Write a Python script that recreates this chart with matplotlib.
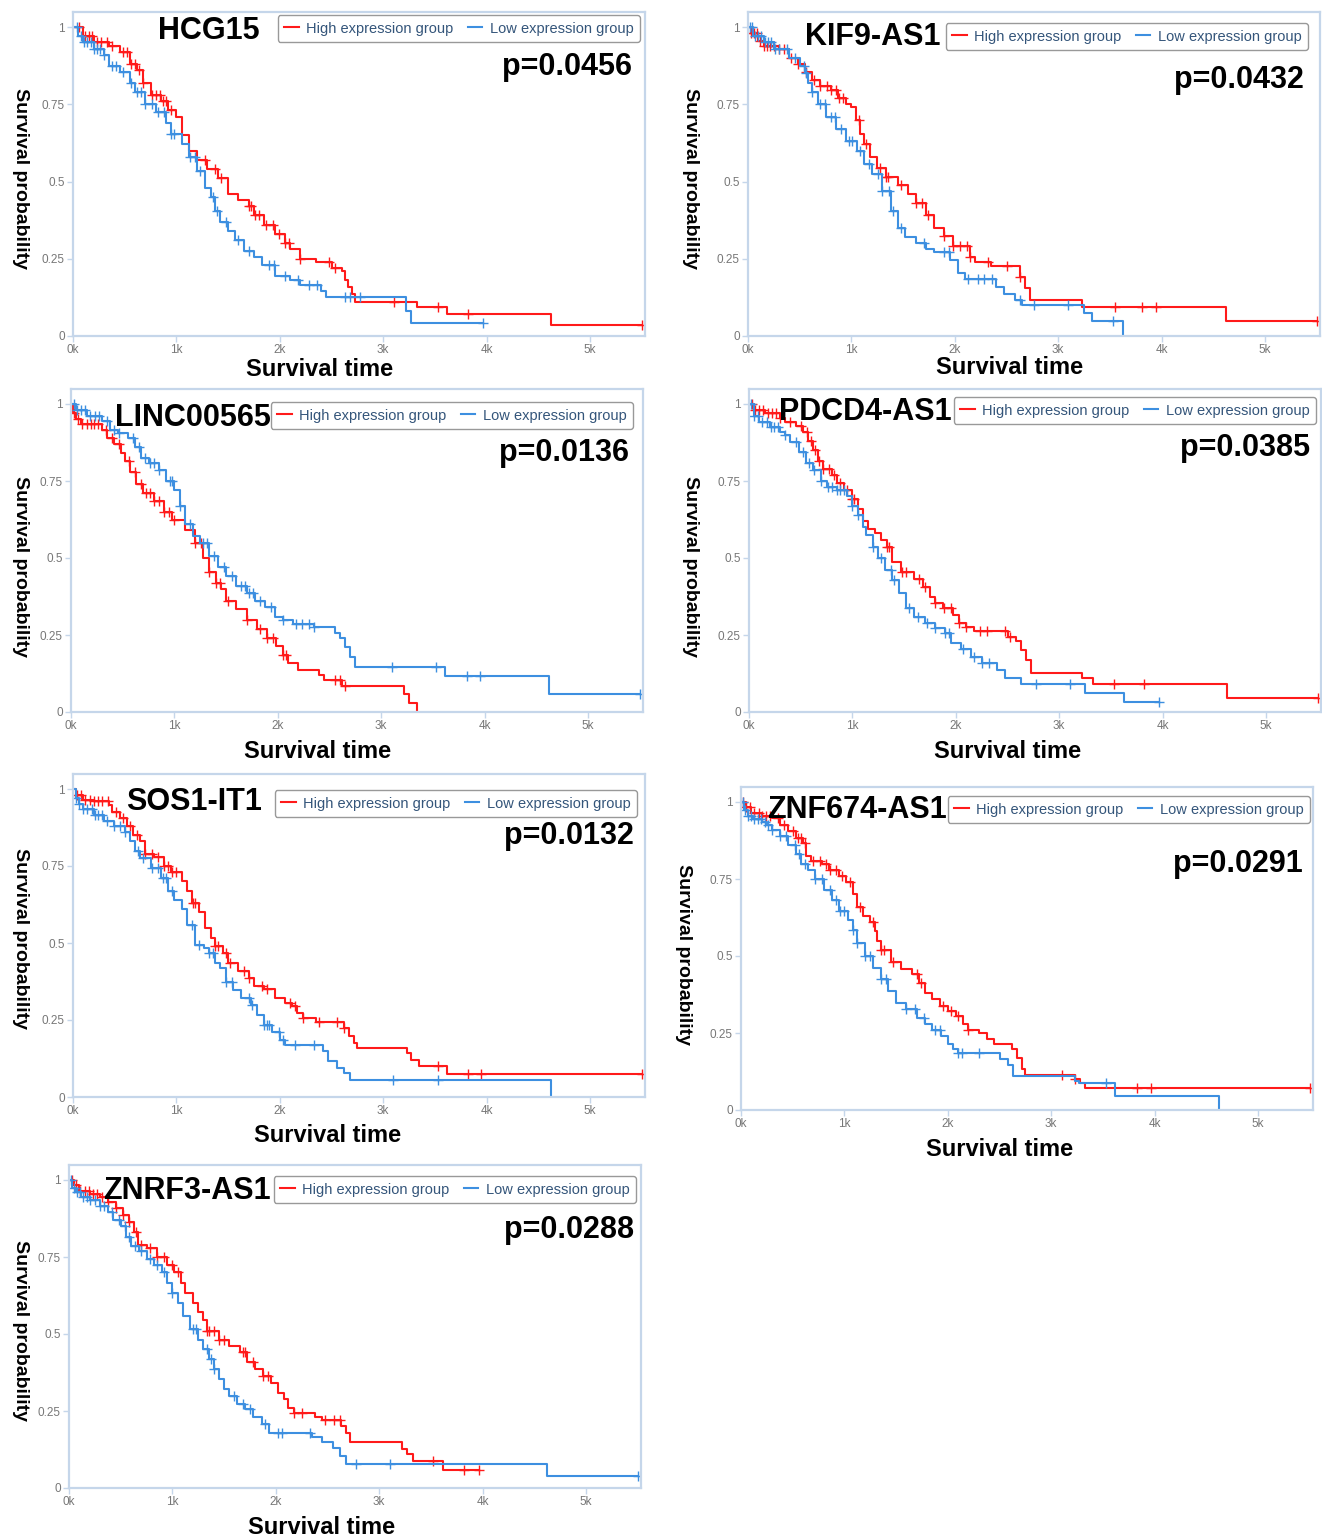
import matplotlib
matplotlib.use("Agg")
import matplotlib.pyplot as plt
import numpy as np

plt.rcParams["font.family"] = ["Liberation Sans", "DejaVu Sans"]

W, H = 1322, 1539
RED = "#ff1a1a"
BLUE = "#3d8fe0"
FRAME = "#c5d6ea"

genes = ["HCG15", "KIF9-AS1", "LINC00565", "PDCD4-AS1", "SOS1-IT1", "ZNF674-AS1", "ZNRF3-AS1"]
pvalues = ["p=0.0456", "p=0.0432", "p=0.0136", "p=0.0385", "p=0.0132", "p=0.0291", "p=0.0288"]

# ---- KM curves: step times (days), survival after each step, censor times ----
hcg15_high_t = [0, 100, 200, 350, 450, 550, 620, 680, 750, 850, 920, 1000, 1050, 1120, 1200, 1300, 1400, 1500, 1600, 1700, 1750, 1850, 1950, 2050, 2100, 2200, 2350, 2500, 2600, 2630, 2660, 2700, 2730, 3330, 3620, 4620]
hcg15_high_s = [1, .97, .95, .94, .92, .88, .86, .82, .78, .76, .73, .71, .65, .60, .57, .54, .51, .46, .44, .42, .39, .36, .33, .30, .28, .25, .24, .22, .21, .18, .16, .135, .11, .095, .07, .036]
hcg15_high_c = [60, 120, 150, 180, 230, 270, 330, 380, 480, 520, 560, 600, 640, 680, 760, 800, 840, 870, 900, 950, 1280, 1370, 1430, 1700, 1720, 1760, 1800, 1870, 1930, 1990, 2050, 2090, 2200, 2480, 2530, 3100, 3530, 3820, 5500]
hcg15_low_t = [0, 50, 100, 200, 300, 350, 450, 550, 600, 700, 800, 900, 950, 1050, 1120, 1200, 1280, 1330, 1370, 1420, 1500, 1570, 1650, 1750, 1830, 1950, 2100, 2200, 2400, 2450, 3220, 3270]
hcg15_low_s = [1, .97, .95, .93, .91, .875, .855, .82, .79, .75, .725, .69, .655, .62, .58, .535, .48, .45, .405, .37, .34, .31, .275, .255, .23, .195, .18, .165, .145, .125, .08, .043]
hcg15_low_c = [40, 80, 110, 140, 170, 200, 230, 260, 300, 380, 420, 480, 560, 620, 660, 700, 760, 820, 880, 950, 980, 1130, 1180, 1230, 1350, 1390, 1480, 1600, 1700, 1900, 1940, 2050, 2180, 2280, 2360, 2630, 2680, 2780, 3970]

kif9_high_t = [0, 30, 100, 150, 300, 400, 480, 550, 620, 700, 800, 870, 950, 1000, 1040, 1080, 1120, 1180, 1250, 1330, 1450, 1550, 1620, 1720, 1800, 1900, 1980, 2150, 2200, 2350, 2630, 2680, 2730, 3230, 4620]
kif9_high_s = [1, .98, .955, .94, .93, .90, .88, .855, .83, .81, .795, .77, .75, .74, .70, .655, .62, .58, .545, .515, .49, .46, .43, .39, .35, .325, .29, .255, .24, .225, .19, .155, .115, .095, .047]
kif9_high_c = [30, 60, 90, 120, 150, 180, 210, 250, 300, 350, 420, 480, 560, 640, 700, 760, 800, 850, 880, 920, 1070, 1140, 1280, 1330, 1350, 1480, 1620, 1680, 1740, 1900, 1980, 2050, 2120, 2150, 2320, 2500, 2630, 3550, 3810, 3950, 5500]
kif9_low_t = [0, 50, 150, 250, 400, 500, 550, 580, 620, 680, 750, 850, 950, 1050, 1120, 1200, 1300, 1380, 1450, 1520, 1620, 1720, 1800, 1950, 2030, 2100, 2400, 2480, 2580, 2650, 3250, 3330, 3630]
kif9_low_s = [1, .97, .95, .93, .90, .875, .85, .82, .79, .75, .71, .67, .63, .60, .557, .525, .47, .405, .35, .32, .30, .28, .273, .245, .205, .185, .16, .135, .115, .10, .075, .05, 0]
kif9_low_c = [20, 40, 70, 100, 130, 160, 190, 220, 260, 300, 380, 450, 540, 560, 620, 700, 740, 800, 840, 900, 980, 1010, 1080, 1170, 1260, 1300, 1360, 1400, 1480, 1700, 1900, 1940, 2130, 2220, 2280, 2360, 2630, 2770, 3090, 3530]

linc_high_t = [0, 20, 50, 100, 300, 350, 420, 480, 520, 570, 630, 700, 800, 900, 980, 1100, 1200, 1280, 1330, 1400, 1450, 1500, 1600, 1700, 1800, 1900, 1980, 2050, 2100, 2200, 2400, 2450, 2620, 3220, 3270, 3350]
linc_high_s = [1, .97, .95, .935, .915, .89, .87, .84, .815, .78, .74, .71, .685, .65, .625, .59, .55, .50, .455, .42, .40, .36, .335, .30, .27, .24, .215, .185, .16, .135, .12, .105, .085, .057, .03, 0]
linc_high_c = [30, 70, 110, 150, 190, 220, 260, 340, 400, 460, 560, 620, 680, 730, 760, 800, 850, 900, 950, 1000, 1200, 1260, 1330, 1400, 1440, 1520, 1700, 1830, 1900, 1950, 2050, 2080, 2550, 2600, 2650]
linc_low_t = [0, 50, 150, 300, 380, 450, 550, 620, 680, 750, 850, 920, 1000, 1050, 1100, 1180, 1250, 1330, 1420, 1500, 1600, 1700, 1780, 1880, 1970, 2050, 2150, 2350, 2550, 2600, 2650, 2700, 2750, 3620, 4620]
linc_low_s = [1, .98, .96, .945, .915, .905, .89, .86, .825, .81, .785, .75, .72, .67, .61, .57, .55, .505, .47, .44, .41, .385, .36, .34, .31, .30, .285, .275, .255, .24, .21, .18, .145, .117, .057]
linc_low_c = [30, 60, 100, 140, 180, 230, 270, 350, 420, 460, 600, 660, 720, 760, 800, 850, 960, 980, 1050, 1150, 1280, 1320, 1380, 1480, 1560, 1640, 1680, 1720, 1760, 1830, 1930, 2050, 2180, 2230, 2300, 2350, 3100, 3530, 3830, 3960, 5500]

pdcd4_high_t = [0, 50, 150, 300, 350, 450, 520, 570, 620, 670, 720, 800, 850, 920, 1000, 1050, 1100, 1150, 1220, 1280, 1330, 1380, 1470, 1600, 1680, 1750, 1800, 1880, 1970, 2030, 2100, 2180, 2500, 2580, 2630, 2680, 2730, 3220, 3330, 4620]
pdcd4_high_s = [1, .98, .97, .955, .94, .93, .91, .88, .85, .815, .79, .77, .745, .72, .69, .66, .62, .595, .58, .56, .535, .487, .455, .433, .406, .374, .353, .337, .315, .29, .277, .263, .245, .232, .202, .17, .128, .11, .092, .045]
pdcd4_high_c = [30, 60, 100, 140, 180, 220, 260, 300, 400, 500, 560, 600, 640, 680, 720, 770, 820, 880, 950, 1000, 1020, 1330, 1350, 1480, 1520, 1640, 1700, 1800, 1890, 1950, 2030, 2100, 2230, 2300, 2480, 2520, 3530, 3820, 5500]
pdcd4_low_t = [0, 50, 100, 200, 300, 350, 400, 480, 550, 620, 700, 750, 850, 950, 1000, 1050, 1100, 1130, 1200, 1250, 1320, 1380, 1450, 1520, 1600, 1700, 1800, 1900, 1950, 2050, 2150, 2250, 2400, 2480, 2630, 3250, 3630]
pdcd4_low_s = [1, .96, .94, .925, .91, .90, .875, .845, .81, .785, .75, .73, .72, .70, .67, .64, .60, .575, .535, .50, .46, .43, .385, .337, .31, .29, .273, .257, .225, .203, .18, .16, .137, .11, .09, .062, .031]
pdcd4_low_c = [20, 50, 90, 130, 170, 210, 240, 280, 350, 450, 520, 580, 630, 700, 760, 800, 850, 880, 920, 1000, 1050, 1200, 1280, 1370, 1400, 1550, 1630, 1720, 1800, 1900, 1930, 2070, 2180, 2250, 2320, 2780, 3100, 3970]

sos1_high_t = [0, 30, 100, 200, 350, 380, 450, 520, 580, 650, 700, 780, 880, 950, 1050, 1100, 1150, 1220, 1280, 1330, 1370, 1450, 1500, 1600, 1700, 1750, 1850, 1950, 2050, 2120, 2170, 2220, 2350, 2620, 2670, 2720, 2750, 3230, 3270, 3350, 3620]
sos1_high_s = [1, .98, .965, .96, .948, .926, .905, .88, .85, .83, .79, .78, .75, .73, .70, .67, .63, .60, .55, .515, .49, .467, .435, .41, .385, .36, .35, .32, .305, .294, .272, .256, .245, .224, .197, .175, .159, .143, .121, .10, .075]
sos1_high_c = [40, 80, 120, 160, 200, 240, 280, 340, 420, 480, 550, 620, 700, 760, 820, 880, 920, 960, 1000, 1160, 1180, 1370, 1400, 1480, 1520, 1650, 1700, 1830, 1880, 2100, 2150, 2220, 2380, 2550, 2620, 3530, 3820, 3950, 5500]
sos1_low_t = [0, 30, 60, 100, 200, 300, 400, 500, 550, 600, 650, 750, 850, 920, 980, 1050, 1100, 1180, 1270, 1320, 1370, 1420, 1480, 1550, 1620, 1720, 1780, 1850, 1920, 2000, 2050, 2420, 2470, 2550, 2620, 2680, 4620]
sos1_low_s = [1, .97, .95, .935, .915, .895, .88, .86, .83, .80, .775, .745, .71, .67, .64, .61, .56, .495, .483, .467, .435, .418, .375, .348, .32, .30, .265, .233, .21, .186, .17, .148, .116, .094, .078, .056, 0]
sos1_low_c = [30, 60, 100, 140, 180, 210, 240, 280, 330, 400, 450, 500, 630, 680, 760, 820, 870, 900, 960, 1150, 1220, 1320, 1350, 1480, 1540, 1700, 1730, 1850, 1880, 1900, 1990, 2030, 2150, 2330, 3090, 3530]

znf674_high_t = [0, 50, 100, 200, 300, 380, 450, 530, 600, 630, 680, 780, 850, 950, 1020, 1080, 1120, 1180, 1250, 1300, 1320, 1350, 1450, 1550, 1650, 1720, 1780, 1850, 1920, 2000, 2080, 2150, 2200, 2300, 2380, 2450, 2620, 2670, 2720, 2750, 3230, 3280, 3330]
znf674_high_s = [1, .985, .965, .955, .948, .925, .905, .883, .868, .825, .81, .80, .78, .76, .74, .70, .66, .63, .61, .58, .55, .52, .48, .458, .44, .413, .38, .359, .337, .32, .305, .278, .26, .25, .23, .213, .197, .17, .132, .115, .10, .089, .07]
znf674_high_c = [20, 50, 90, 130, 170, 200, 240, 280, 360, 420, 500, 550, 580, 620, 700, 760, 820, 860, 920, 980, 1050, 1150, 1280, 1350, 1380, 1470, 1700, 1740, 1950, 2030, 2100, 2200, 3100, 3230, 3830, 3970, 5500]
znf674_low_t = [0, 30, 70, 120, 200, 250, 300, 380, 450, 530, 580, 650, 720, 800, 880, 950, 1030, 1080, 1120, 1200, 1280, 1350, 1420, 1500, 1600, 1700, 1780, 1850, 1930, 2000, 2050, 2100, 2500, 2580, 2630, 3230, 3270, 3620, 4620]
znf674_low_s = [1, .975, .955, .945, .935, .925, .91, .89, .862, .83, .80, .78, .75, .715, .683, .645, .618, .586, .543, .50, .46, .424, .386, .348, .327, .30, .278, .26, .24, .213, .197, .184, .165, .145, .112, .094, .089, .045, 0]
znf674_low_c = [20, 40, 70, 100, 130, 160, 190, 230, 260, 300, 380, 440, 520, 560, 620, 720, 780, 860, 920, 960, 1000, 1080, 1120, 1200, 1250, 1350, 1400, 1600, 1680, 1770, 1880, 1920, 2100, 2140, 2300, 3530]

znrf3_high_t = [0, 50, 100, 200, 300, 380, 450, 520, 580, 630, 670, 750, 850, 950, 1020, 1080, 1120, 1200, 1250, 1300, 1330, 1450, 1550, 1650, 1720, 1800, 1880, 1950, 2020, 2080, 2120, 2180, 2380, 2450, 2630, 2680, 2720, 3220, 3270, 3330, 3620]
znrf3_high_s = [1, .985, .965, .955, .946, .93, .908, .887, .865, .83, .79, .78, .75, .725, .70, .665, .633, .60, .57, .545, .51, .48, .46, .44, .41, .385, .365, .34, .31, .29, .26, .245, .23, .22, .20, .18, .148, .126, .11, .088, .06]
znrf3_high_c = [30, 70, 110, 150, 190, 230, 270, 320, 380, 450, 520, 580, 650, 700, 780, 850, 920, 1000, 1050, 1330, 1350, 1400, 1450, 1500, 1680, 1700, 1780, 1880, 1920, 2180, 2250, 2480, 2560, 2620, 3520, 3820, 3970]
znrf3_low_t = [0, 30, 70, 120, 200, 300, 380, 430, 500, 550, 600, 680, 750, 820, 900, 950, 1000, 1050, 1100, 1170, 1250, 1300, 1350, 1400, 1450, 1500, 1550, 1620, 1700, 1780, 1870, 1930, 2350, 2450, 2550, 2620, 2680, 4620]
znrf3_low_s = [1, .975, .96, .945, .935, .915, .897, .87, .85, .815, .785, .77, .745, .725, .70, .665, .633, .60, .557, .515, .48, .45, .418, .385, .353, .32, .30, .272, .255, .229, .207, .18, .164, .148, .13, .105, .077, .04]
znrf3_low_c = [20, 50, 80, 110, 140, 170, 200, 250, 300, 340, 420, 480, 540, 580, 640, 700, 780, 850, 920, 1000, 1200, 1230, 1330, 1370, 1400, 1600, 1680, 1750, 1900, 2020, 2060, 2330, 2780, 3100, 5500]

curves = [
    ((hcg15_high_t, hcg15_high_s, hcg15_high_c), (hcg15_low_t, hcg15_low_s, hcg15_low_c)),
    ((kif9_high_t, kif9_high_s, kif9_high_c), (kif9_low_t, kif9_low_s, kif9_low_c)),
    ((linc_high_t, linc_high_s, linc_high_c), (linc_low_t, linc_low_s, linc_low_c)),
    ((pdcd4_high_t, pdcd4_high_s, pdcd4_high_c), (pdcd4_low_t, pdcd4_low_s, pdcd4_low_c)),
    ((sos1_high_t, sos1_high_s, sos1_high_c), (sos1_low_t, sos1_low_s, sos1_low_c)),
    ((znf674_high_t, znf674_high_s, znf674_high_c), (znf674_low_t, znf674_low_s, znf674_low_c)),
    ((znrf3_high_t, znrf3_high_s, znrf3_high_c), (znrf3_low_t, znrf3_low_s, znrf3_low_c)),
]

# ---- layout in pixels: x of 0k, y of survival 1, y of survival 0 ----
axes_px = [(73, 27, 336), (748, 27, 336), (71, 404, 712), (749, 404, 712),
           (73, 789, 1097), (741, 802, 1110), (69, 1180, 1488)]
title_px = [(209, 31), (873, 37), (193, 418), (865, 412), (194, 802), (857, 810), (187, 1191)]
legend_px = [(640, 15), (1308, 23), (633, 402), (1316, 397), (637, 790), (1310, 796), (636, 1176)]
pval_px = [(632, 67), (1304, 80), (629, 453), (1310, 448), (634, 836), (1303, 864), (634, 1230)]
ylab_px = [(20, 178), (690, 178), (20, 566), (690, 566), (20, 938), (683, 955), (20, 1330)]
xlab_px = [(320, 369), (1010, 368), (318, 751), (1008, 751), (328, 1135), (1000, 1150), (322, 1527)]

PX_PER_K = 103.4
XMAX = 5530


def fx(x):
    return x / W


def fy(y):
    return 1 - y / H


def draw_km(ax, t, s, cens, color, label):
    t = np.asarray(t, float)
    s = np.asarray(s, float)
    end = max(t[-1], cens[-1])
    ax.step(np.append(t, end), np.append(s, s[-1]), where="post", color=color, lw=1.5, label=label)
    idx = np.searchsorted(t, cens, side="right") - 1
    ax.plot(cens, s[idx], "+", color=color, ms=7, mew=1.0)


fig = plt.figure(figsize=(W / 100, H / 100), dpi=100)

for i, gene in enumerate(genes):
    x0, y1, y0 = axes_px[i]
    h1 = y0 - y1
    top = y1 - 0.05 * h1
    right = x0 + XMAX / 1000 * PX_PER_K
    ax = fig.add_axes([fx(x0), fy(y0), (right - x0) / W, (y0 - top) / H])
    high, low = curves[i]
    draw_km(ax, *high, RED, "High expression group")
    draw_km(ax, *low, BLUE, "Low expression group")
    ax.set_xlim(0, XMAX)
    ax.set_ylim(0, 1.05)
    ax.set_xticks([0, 1000, 2000, 3000, 4000, 5000])
    ax.set_xticklabels(["0k", "1k", "2k", "3k", "4k", "5k"])
    ax.set_yticks([0, 0.25, 0.5, 0.75, 1])
    ax.set_yticklabels(["0", "0.25", "0.5", "0.75", "1"])
    ax.tick_params(colors=FRAME, labelcolor="#777777", labelsize=8.5, length=4, width=1, pad=2)
    for sp in ax.spines.values():
        sp.set_color(FRAME)
        sp.set_linewidth(1.6)

    leg = ax.legend(loc="upper right", bbox_to_anchor=(fx(legend_px[i][0]), fy(legend_px[i][1])),
                    bbox_transform=fig.transFigure, ncol=2, fontsize=10.5, frameon=True,
                    fancybox=True, edgecolor="#999999", framealpha=1, handlelength=1.0,
                    handletextpad=0.5, columnspacing=1.0, borderpad=0.45, borderaxespad=0)
    for txt in leg.get_texts():
        txt.set_color("#34557a")
    leg.get_frame().set_linewidth(1.0)

    fig.text(fx(title_px[i][0]), fy(title_px[i][1]), gene, ha="center", va="center",
             fontsize=22, fontweight="bold")
    fig.text(fx(pval_px[i][0]), fy(pval_px[i][1]), pvalues[i], ha="right", va="center",
             fontsize=22, fontweight="bold")
    fig.text(fx(ylab_px[i][0]), fy(ylab_px[i][1]), "Survival probability", ha="center",
             va="center", rotation=270, fontsize=14, fontweight="bold")
    fig.text(fx(xlab_px[i][0]), fy(xlab_px[i][1]), "Survival time", ha="center", va="center",
             fontsize=17, fontweight="bold")

fig.savefig("out.png", dpi=100, facecolor="white")
